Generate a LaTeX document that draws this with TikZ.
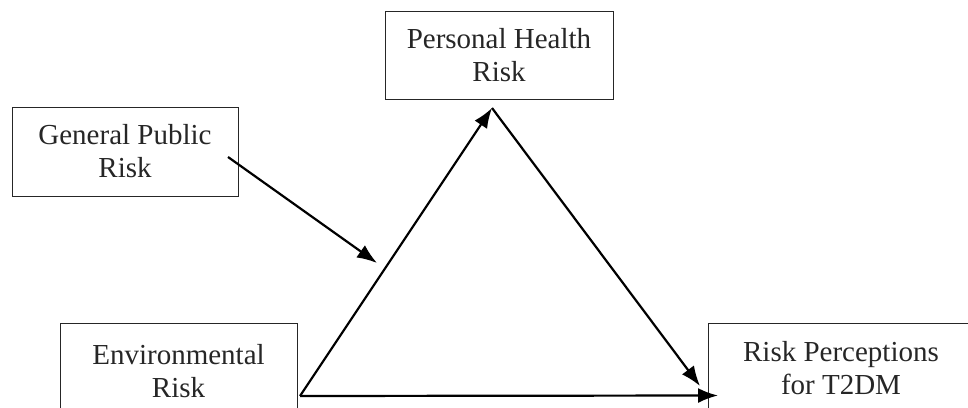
\documentclass[tikz,border=0pt]{standalone}
\usepackage{fontspec}
\setmainfont{Liberation Serif}
\usetikzlibrary{arrows.meta}
\begin{document}
\begin{tikzpicture}[x=1pt,y=1pt,
  box/.style={draw=black!85, line width=0.8pt, inner sep=0pt, align=center,
    font=\fontsize{29}{33}\selectfont, text=black!85},
  conn/.style={line width=2.2pt, -{Latex[length=20pt,width=15pt]}}]
\useasboundingbox (0,0) rectangle (968,407);
\clip (0,0) rectangle (968,407);
\node[box, minimum width=226pt, minimum height=89pt] (gp) at (125,255.5) {General Public\\Risk};
\node[box, minimum width=228pt, minimum height=88pt] (ph) at (499,352) {Personal Health\\Risk};
\node[box, minimum width=237pt, minimum height=96pt] (env) at (178.5,36) {Environmental\\Risk};
\node[box, minimum width=266pt, minimum height=91pt] (rp) at (841,38.5) {Risk Perceptions\\for T2DM};
\coordinate (v) at (300,11);
\coordinate (apex) at (492,299);
\coordinate (t1) at (700,21);
\coordinate (t2) at (718,11.5);
\coordinate (gs) at (228,250);
\coordinate (gt) at (377,144);
\draw[conn] (v) -- (apex);
\draw[conn] (apex) -- (t1);
\draw[conn] (v) -- (t2);
\draw[conn] (gs) -- (gt);
\end{tikzpicture}
\end{document}
